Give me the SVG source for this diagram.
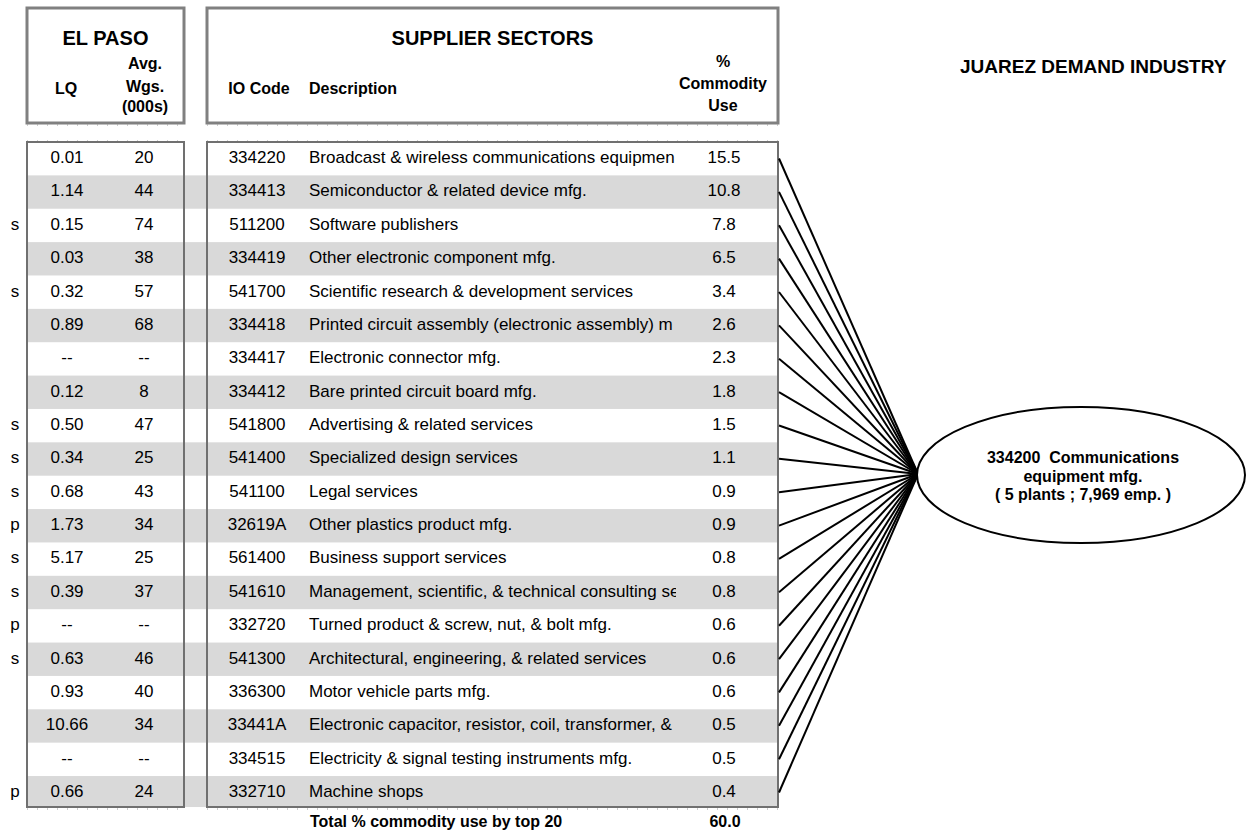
<svg xmlns="http://www.w3.org/2000/svg" width="1246" height="833" viewBox="0 0 1246 833">
<defs>
<style>
text{font-family:"Liberation Sans",Arial,sans-serif;fill:#000}
.d{font-size:17px}
.m{text-anchor:middle}
.h{font-size:16px;font-weight:bold}
.t{font-size:20px;font-weight:bold}
.e{font-size:16px;font-weight:bold;text-anchor:middle}
.g{fill:#d9d9d9}
.hb{fill:#fff;stroke:#808080;stroke-width:3}
.db{fill:none;stroke:#707070;stroke-width:2}
.tick{stroke:#999;stroke-width:1;stroke-dasharray:1 9;fill:none}
.c line{stroke:#000;stroke-width:2}
</style>
<clipPath id="descClip"><rect x="300" y="130" width="376" height="690"/></clipPath>
</defs>
<rect width="1246" height="833" fill="#fff"/>

<g id="header-elpaso">
<rect class="hb" x="27" y="8" width="157" height="115"/>
<text class="t m" x="105.5" y="45">EL PASO</text>
<text class="h m" x="66" y="94">LQ</text>
<text class="h m" x="145" y="69">Avg.</text>
<text class="h m" x="145" y="92">Wgs.</text>
<text class="h m" x="145" y="112">(000s)</text>
</g>
<g id="header-suppliers">
<rect class="hb" x="207" y="8" width="571" height="115"/>
<text class="t m" x="492.5" y="45">SUPPLIER SECTORS</text>
<text class="h m" x="259" y="94">IO Code</text>
<text class="h" x="309" y="94">Description</text>
<text class="h m" x="723" y="67">%</text>
<text class="h m" x="723" y="89">Commodity</text>
<text class="h m" x="723" y="111">Use</text>
</g>
<g id="header-juarez">
<text class="t" x="960" y="73" style="font-size:19px">JUAREZ DEMAND INDUSTRY</text>
</g>

<g id="row-stripes">
<rect class="g" x="27" y="175.37" width="751" height="33.37"/>
<rect class="g" x="27" y="242.11" width="751" height="33.37"/>
<rect class="g" x="27" y="308.85" width="751" height="33.37"/>
<rect class="g" x="27" y="375.59" width="751" height="33.37"/>
<rect class="g" x="27" y="442.33" width="751" height="33.37"/>
<rect class="g" x="27" y="509.07" width="751" height="33.37"/>
<rect class="g" x="27" y="575.81" width="751" height="33.37"/>
<rect class="g" x="27" y="642.55" width="751" height="33.37"/>
<rect class="g" x="27" y="709.29" width="751" height="33.37"/>
<rect class="g" x="27" y="776.03" width="751" height="31"/>
</g>

<g id="table-frames">
<line class="tick" x1="27" y1="125" x2="184" y2="125"/>
<line class="tick" x1="207" y1="125" x2="778" y2="125"/>
<line class="tick" x1="27" y1="141" x2="184" y2="141"/>
<line class="tick" x1="207" y1="141" x2="778" y2="141"/>
<line class="tick" x1="27" y1="809" x2="184" y2="809"/>
<line class="tick" x1="207" y1="809" x2="778" y2="809"/>
<rect class="db" x="27" y="142" width="157" height="665"/>
<rect class="db" x="207" y="142" width="571" height="665"/>
</g>

<g id="row-334220"><text class="d m" x="67" y="163">0.01</text><text class="d m" x="144" y="163">20</text><text class="d m" x="257" y="163">334220</text><text class="d" x="309" y="163" clip-path="url(#descClip)">Broadcast &amp; wireless communications equipmen</text><text class="d m" x="724" y="163">15.5</text></g>
<g id="row-334413"><text class="d m" x="67" y="196.4">1.14</text><text class="d m" x="144" y="196.4">44</text><text class="d m" x="257" y="196.4">334413</text><text class="d" x="309" y="196.4">Semiconductor &amp; related device mfg.</text><text class="d m" x="724" y="196.4">10.8</text></g>
<g id="row-511200"><text class="d m" x="15" y="229.7">s</text><text class="d m" x="67" y="229.7">0.15</text><text class="d m" x="144" y="229.7">74</text><text class="d m" x="257" y="229.7">511200</text><text class="d" x="309" y="229.7">Software publishers</text><text class="d m" x="724" y="229.7">7.8</text></g>
<g id="row-334419"><text class="d m" x="67" y="263.1">0.03</text><text class="d m" x="144" y="263.1">38</text><text class="d m" x="257" y="263.1">334419</text><text class="d" x="309" y="263.1">Other electronic component mfg.</text><text class="d m" x="724" y="263.1">6.5</text></g>
<g id="row-541700"><text class="d m" x="15" y="296.5">s</text><text class="d m" x="67" y="296.5">0.32</text><text class="d m" x="144" y="296.5">57</text><text class="d m" x="257" y="296.5">541700</text><text class="d" x="309" y="296.5">Scientific research &amp; development services</text><text class="d m" x="724" y="296.5">3.4</text></g>
<g id="row-334418"><text class="d m" x="67" y="329.9">0.89</text><text class="d m" x="144" y="329.9">68</text><text class="d m" x="257" y="329.9">334418</text><text class="d" x="309" y="329.9" clip-path="url(#descClip)">Printed circuit assembly (electronic assembly) m</text><text class="d m" x="724" y="329.9">2.6</text></g>
<g id="row-334417"><text class="d m" x="67" y="363.2">--</text><text class="d m" x="144" y="363.2">--</text><text class="d m" x="257" y="363.2">334417</text><text class="d" x="309" y="363.2">Electronic connector mfg.</text><text class="d m" x="724" y="363.2">2.3</text></g>
<g id="row-334412"><text class="d m" x="67" y="396.6">0.12</text><text class="d m" x="144" y="396.6">8</text><text class="d m" x="257" y="396.6">334412</text><text class="d" x="309" y="396.6">Bare printed circuit board mfg.</text><text class="d m" x="724" y="396.6">1.8</text></g>
<g id="row-541800"><text class="d m" x="15" y="430">s</text><text class="d m" x="67" y="430">0.50</text><text class="d m" x="144" y="430">47</text><text class="d m" x="257" y="430">541800</text><text class="d" x="309" y="430">Advertising &amp; related services</text><text class="d m" x="724" y="430">1.5</text></g>
<g id="row-541400"><text class="d m" x="15" y="463.3">s</text><text class="d m" x="67" y="463.3">0.34</text><text class="d m" x="144" y="463.3">25</text><text class="d m" x="257" y="463.3">541400</text><text class="d" x="309" y="463.3">Specialized design services</text><text class="d m" x="724" y="463.3">1.1</text></g>
<g id="row-541100"><text class="d m" x="15" y="496.7">s</text><text class="d m" x="67" y="496.7">0.68</text><text class="d m" x="144" y="496.7">43</text><text class="d m" x="257" y="496.7">541100</text><text class="d" x="309" y="496.7">Legal services</text><text class="d m" x="724" y="496.7">0.9</text></g>
<g id="row-32619A"><text class="d m" x="15" y="530.1">p</text><text class="d m" x="67" y="530.1">1.73</text><text class="d m" x="144" y="530.1">34</text><text class="d m" x="257" y="530.1">32619A</text><text class="d" x="309" y="530.1">Other plastics product mfg.</text><text class="d m" x="724" y="530.1">0.9</text></g>
<g id="row-561400"><text class="d m" x="15" y="563.4">s</text><text class="d m" x="67" y="563.4">5.17</text><text class="d m" x="144" y="563.4">25</text><text class="d m" x="257" y="563.4">561400</text><text class="d" x="309" y="563.4">Business support services</text><text class="d m" x="724" y="563.4">0.8</text></g>
<g id="row-541610"><text class="d m" x="15" y="596.8">s</text><text class="d m" x="67" y="596.8">0.39</text><text class="d m" x="144" y="596.8">37</text><text class="d m" x="257" y="596.8">541610</text><text class="d" x="309" y="596.8" clip-path="url(#descClip)">Management, scientific, &amp; technical consulting se</text><text class="d m" x="724" y="596.8">0.8</text></g>
<g id="row-332720"><text class="d m" x="15" y="630.2">p</text><text class="d m" x="67" y="630.2">--</text><text class="d m" x="144" y="630.2">--</text><text class="d m" x="257" y="630.2">332720</text><text class="d" x="309" y="630.2">Turned product &amp; screw, nut, &amp; bolt mfg.</text><text class="d m" x="724" y="630.2">0.6</text></g>
<g id="row-541300"><text class="d m" x="15" y="663.6">s</text><text class="d m" x="67" y="663.6">0.63</text><text class="d m" x="144" y="663.6">46</text><text class="d m" x="257" y="663.6">541300</text><text class="d" x="309" y="663.6">Architectural, engineering, &amp; related services</text><text class="d m" x="724" y="663.6">0.6</text></g>
<g id="row-336300"><text class="d m" x="67" y="696.9">0.93</text><text class="d m" x="144" y="696.9">40</text><text class="d m" x="257" y="696.9">336300</text><text class="d" x="309" y="696.9">Motor vehicle parts mfg.</text><text class="d m" x="724" y="696.9">0.6</text></g>
<g id="row-33441A"><text class="d m" x="67" y="730.3">10.66</text><text class="d m" x="144" y="730.3">34</text><text class="d m" x="257" y="730.3">33441A</text><text class="d" x="309" y="730.3" clip-path="url(#descClip)">Electronic capacitor, resistor, coil, transformer, &amp;</text><text class="d m" x="724" y="730.3">0.5</text></g>
<g id="row-334515"><text class="d m" x="67" y="763.7">--</text><text class="d m" x="144" y="763.7">--</text><text class="d m" x="257" y="763.7">334515</text><text class="d" x="309" y="763.7">Electricity &amp; signal testing instruments mfg.</text><text class="d m" x="724" y="763.7">0.5</text></g>
<g id="row-332710"><text class="d m" x="15" y="797">p</text><text class="d m" x="67" y="797">0.66</text><text class="d m" x="144" y="797">24</text><text class="d m" x="257" y="797">332710</text><text class="d" x="309" y="797">Machine shops</text><text class="d m" x="724" y="797">0.4</text></g>

<g id="total">
<text class="h" x="310" y="827">Total % commodity use by top 20</text>
<text class="h m" x="725" y="827">60.0</text>
</g>

<g id="connectors" class="c">
<line x1="779" y1="158.5" x2="918" y2="474"/>
<line x1="779" y1="191.9" x2="918" y2="474"/>
<line x1="779" y1="225.2" x2="918" y2="474"/>
<line x1="779" y1="258.6" x2="918" y2="474"/>
<line x1="779" y1="292" x2="918" y2="474"/>
<line x1="779" y1="325.4" x2="918" y2="474"/>
<line x1="779" y1="358.7" x2="918" y2="474"/>
<line x1="779" y1="392.1" x2="918" y2="474"/>
<line x1="779" y1="425.5" x2="918" y2="474"/>
<line x1="779" y1="458.8" x2="918" y2="474"/>
<line x1="779" y1="492.2" x2="918" y2="474"/>
<line x1="779" y1="525.6" x2="918" y2="474"/>
<line x1="779" y1="558.9" x2="918" y2="474"/>
<line x1="779" y1="592.3" x2="918" y2="474"/>
<line x1="779" y1="625.7" x2="918" y2="474"/>
<line x1="779" y1="659.1" x2="918" y2="474"/>
<line x1="779" y1="692.4" x2="918" y2="474"/>
<line x1="779" y1="725.8" x2="918" y2="474"/>
<line x1="779" y1="759.2" x2="918" y2="474"/>
<line x1="779" y1="792.5" x2="918" y2="474"/>
</g>

<g id="demand-334200">
<ellipse cx="1081" cy="475" rx="164" ry="68" fill="#fff" stroke="#000" stroke-width="2"/>
<text class="e" x="1083" y="463" xml:space="preserve">334200  Communications</text>
<text class="e" x="1083" y="481.5">equipment mfg.</text>
<text class="e" x="1083" y="500">( 5 plants ; 7,969 emp. )</text>
</g>
</svg>
